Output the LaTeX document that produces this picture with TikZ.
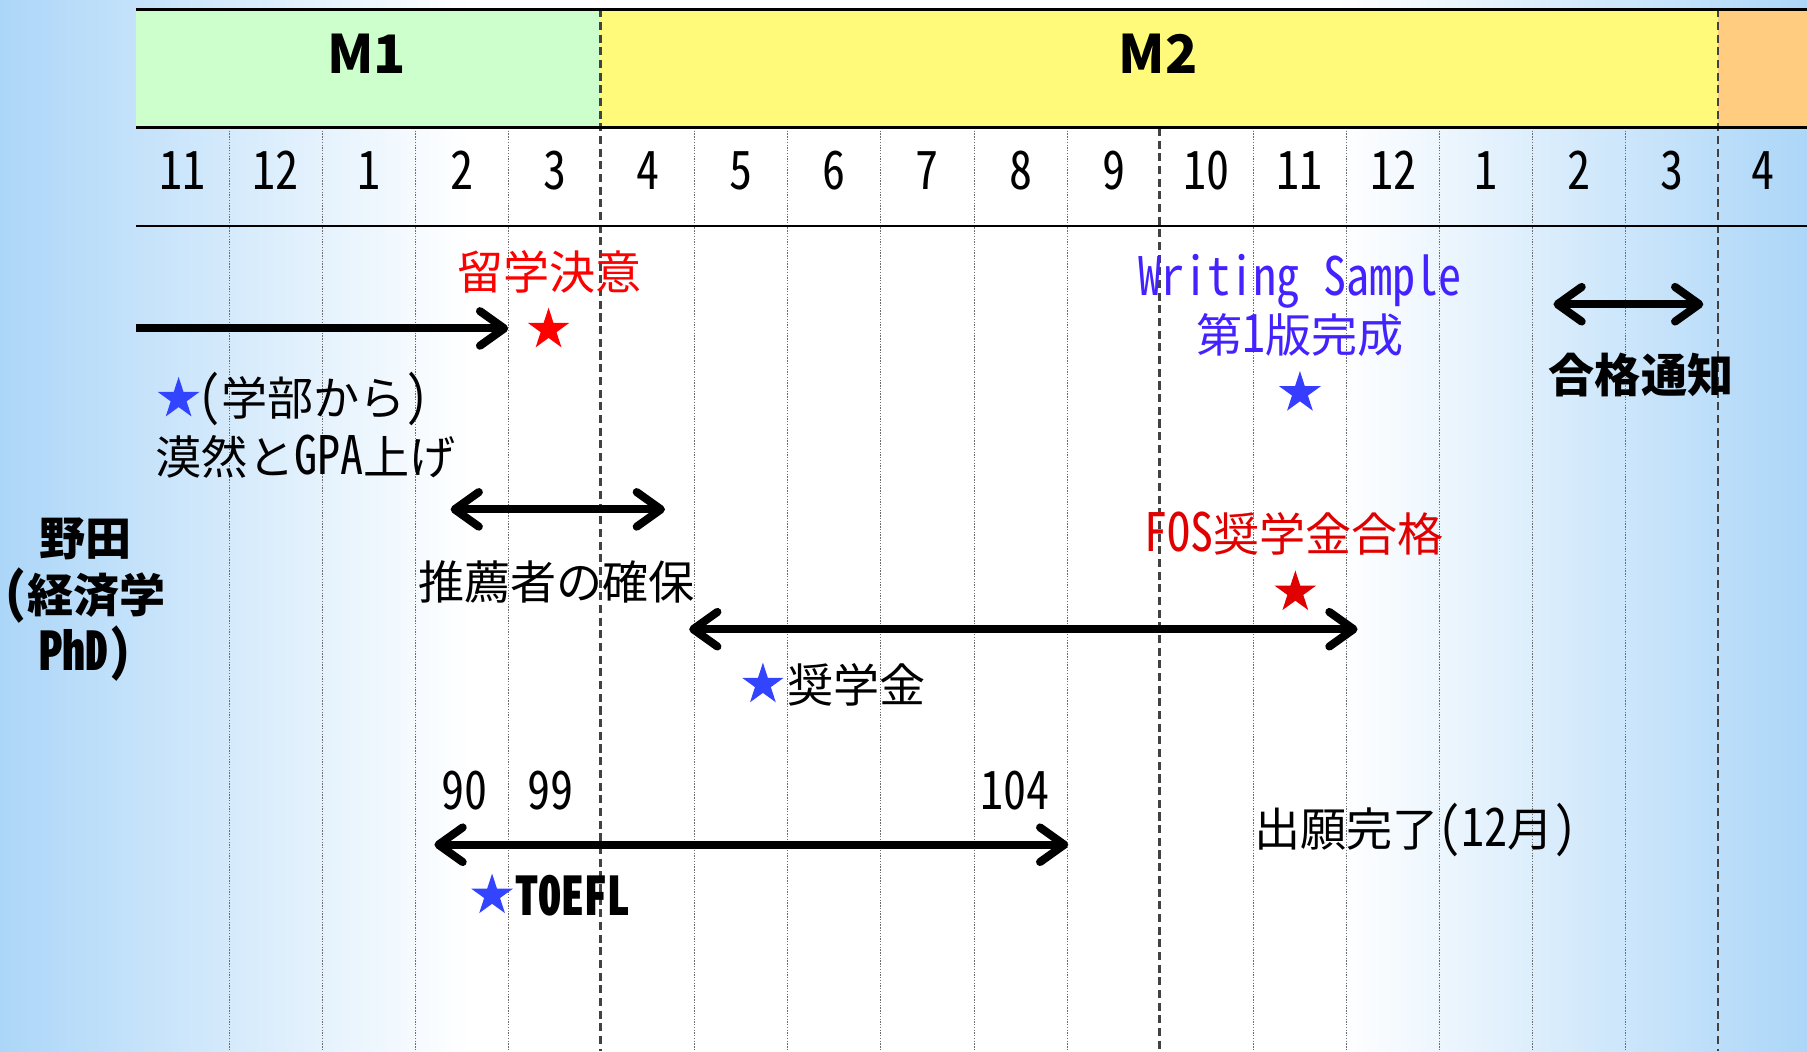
\documentclass[tikz,border=0pt]{standalone}
\usepackage{fontspec}
\setmainfont{Noto Sans CJK JP}
\newfontfamily\halffont{Noto Sans CJK JP}[CharacterWidth=Half, FakeStretch=0.87]
\usetikzlibrary{arrows.meta,shapes.geometric}

\definecolor{bgblue}{RGB}{172,214,248}
\definecolor{mgreen}{RGB}{204,255,204}
\definecolor{myellow}{RGB}{255,250,122}
\definecolor{morange}{RGB}{255,204,128}
\definecolor{starred}{RGB}{255,0,0}
\definecolor{fosred}{RGB}{224,0,0}
\definecolor{starblue}{RGB}{51,68,255}
\definecolor{wsblue}{RGB}{68,34,255}
\definecolor{gridgray}{RGB}{110,110,110}

\pgfdeclarehorizontalshading{bgfade}{100bp}{color(0bp)=(bgblue); color(25bp)=(bgblue); color(38bp)=(white); color(62bp)=(white); color(75bp)=(bgblue); color(100bp)=(bgblue)}

\newcommand{\hw}[1]{{\halffont\fontsize{46}{50}\selectfont #1}}

\tikzset{
  jp/.style={font=\fontsize{40}{50}\selectfont, inner sep=0pt},
  monthlabel/.style={font=\halffont\fontsize{46}{50}\selectfont, inner sep=0pt},
  yearlabel/.style={font=\bfseries\fontsize{46}{50}\selectfont, inner sep=0pt},
  pinstar/.style={star, star points=5, star point ratio=2.618, inner sep=0pt, minimum size=38pt, draw=none},
  onearrow/.style={line width=7pt, -{Straight Barb[length=21pt,width=30pt,line cap=round,line join=round]}},
  twoarrow/.style={line width=7pt, {Straight Barb[length=21pt,width=30pt,line cap=round,line join=round]}-{Straight Barb[length=21pt,width=30pt,line cap=round,line join=round]}},
  thingrid/.style={gridgray, line width=0.8pt, dash pattern=on 1.2pt off 1.2pt},
  midgrid/.style={gridgray!60!black, line width=2pt, dash pattern=on 7pt off 4pt},
}

\begin{document}
\begin{tikzpicture}[x=1pt, y=-1pt]
      \useasboundingbox (0,0) rectangle (1568,912);

      % Background
      \shade[shading=bgfade] (0,0) rectangle (1568,912);

      % Header
      \fill[mgreen] (118,8) rectangle (521,111);
      \fill[myellow] (521,8) rectangle (1491,111);
      \fill[morange] (1491,8) rectangle (1568,111);
      \node[yearlabel] (m1) at (318,47) {M1};
      \node[yearlabel] (m2) at (1005,47) {M2};

      % Month grid
      \foreach \k in {1,2,3,4,6,7,8,9,10,12,13,14,15,16}
        \draw[thingrid] ({118+80.8*\k},111) -- ({118+80.8*\k},912);
      \draw[midgrid] (521,8) -- (521,912);
      \draw[midgrid] (1006,111) -- (1006,912);
      \draw[midgrid] (1491,8) -- (1491,912);
      \draw[line width=2.5pt] (118,8) -- (1568,8);
      \draw[line width=2.5pt] (118,111) -- (1568,111);
      \draw[line width=2.2pt] (118,196) -- (1568,196);

      % Months
      \foreach \m [count=\i from 0] in {11,12,1,2,3,4,5,6,7,8,9,10,11,12,1,2,3}
        \node[monthlabel] (mon\i) at ({118+80.8*(\i+0.5)},148) {\m};
      \node[monthlabel] (mon17) at (1530,148) {4};

      % Person
      \node[jp, font=\bfseries\fontsize{40}{50}\selectfont, align=center] (who) at (74,520) {野田\\\hw{(}経済学\\\hw{PhD)}};

      % Decision
      \node[jp, text=starred] (decide) at (477,236) {留学決意};
      \node[pinstar, fill=starred] (decidestar) at (476,286) {};
      \coordinate (gpa-l) at (118,285);
      \coordinate (gpa-r) at (441,285);
      \draw[onearrow] (gpa-l) -- (gpa-r);

      % Undergraduate
      \node[pinstar, fill=starblue] (ugstar) at (155,346) {};
      \node[jp, anchor=west] (ug) at (172,346) {\hw{(}学部から\hw{)}};
      \node[jp, anchor=west] (gpa) at (135,396) {漠然と\hw{GPA}上げ};

      % Recommenders
      \coordinate (rec-l) at (391,442);
      \coordinate (rec-r) at (577,442);
      \draw[twoarrow] (rec-l) -- (rec-r);
      \node[jp] (rec) at (483,505) {推薦者の確保};

      % Scholarship
      \coordinate (sch-l) at (598,546);
      \coordinate (sch-r) at (1178,546);
      \draw[twoarrow] (sch-l) -- (sch-r);
      \node[pinstar, fill=starblue] (schstar) at (662,594) {};
      \node[jp, anchor=west] (sch) at (683,594) {奨学金};
      \node[jp, text=fosred] (fos) at (1123,463) {\hw{FOS}奨学金合格};
      \node[pinstar, fill=fosred] (fosstar) at (1124,514) {};

      % Writing sample
      \node[jp, text=wsblue, align=center] (ws) at (1128,265) {\hw{Writing Sample}\\第\hw{1}版完成};
      \node[pinstar, fill=starblue!80!wsblue] (wsstar) at (1128,341) {};

      % Admission
      \coordinate (pass-l) at (1348,264);
      \coordinate (pass-r) at (1478,264);
      \draw[twoarrow] (pass-l) -- (pass-r);
      \node[jp, font=\bfseries\fontsize{40}{50}\selectfont] (pass) at (1424,325) {合格通知};

      % TOEFL
      \node[monthlabel] (t90) at (403,686) {90};
      \node[monthlabel] (t99) at (478,686) {99};
      \node[monthlabel] (t104) at (881,686) {104};
      \coordinate (toefl-l) at (377,733);
      \coordinate (toefl-r) at (927,733);
      \draw[twoarrow] (toefl-l) -- (toefl-r);
      \node[pinstar, fill=starblue] (toeflstar) at (427,777) {};
      \node[jp, anchor=west, font=\bfseries\fontsize{40}{50}\selectfont] (toefl) at (447,777) {\hw{TOEFL}};

      % Application
      \node[jp, anchor=west] (apply) at (1088,720) {出願完了\hw{(12}月\hw{)}};
    \end{tikzpicture}
\end{document}
